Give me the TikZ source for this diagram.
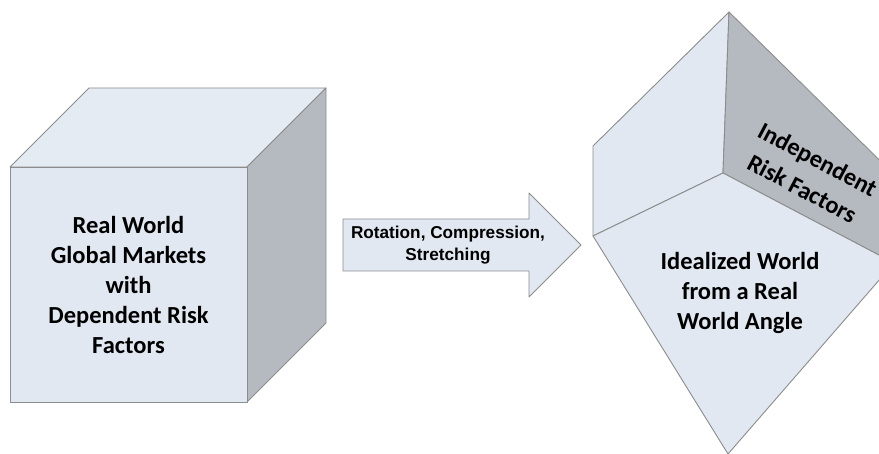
\documentclass[tikz,border=0pt]{standalone}
\usepackage{fontspec}
\setmainfont{Carlito}
\newfontfamily\arialfont{Liberation Sans}
\definecolor{facelight}{HTML}{E2E8F1}
\definecolor{facetop}{HTML}{E5EBF3}
\definecolor{facedark}{HTML}{B5BAC1}
\definecolor{edgegray}{HTML}{8C8C8C}
\tikzset{
  face/.style={draw=edgegray, line width=0.9pt, line join=round},
  bigtext/.style={font=\bfseries\fontsize{24.5}{30}\selectfont, align=center, text=black, inner sep=1pt},
  slanttext/.style={font=\bfseries\fontsize{24.5}{33}\selectfont, align=center, text=black, inner sep=1pt},
  arrowtext/.style={font=\arialfont\bfseries\fontsize{17.2}{22}\selectfont, align=center, text=black, inner sep=1pt}
}
\begin{document}
\begin{tikzpicture}[x=1pt,y=-1pt]
\useasboundingbox (0,0) rectangle (879,454);
\begin{scope}
\clip (0,0) rectangle (879,454);
% left cube
\coordinate (fa) at (10,167);
\coordinate (fb) at (247,167);
\coordinate (fc) at (247,402);
\coordinate (fd) at (10,402);
\coordinate (ta) at (89,88);
\coordinate (tb) at (326,88);
\coordinate (tc) at (326,323);
\filldraw[face, fill=facetop] (fa) -- (ta) -- (tb) -- (fb) -- cycle;
\filldraw[face, fill=facedark] (fb) -- (tb) -- (tc) -- (fc) -- cycle;
\filldraw[face, fill=facelight] (fa) -- (fb) -- (fc) -- (fd) -- cycle;
\node[bigtext] (cubetext) at (128.5,284.5) {Real World\\Global Markets\\with\\Dependent Risk\\Factors};
% arrow
\coordinate (a1) at (343,219);
\coordinate (a2) at (529,219);
\coordinate (a3) at (529,193);
\coordinate (a4) at (581,245);
\coordinate (a5) at (529,297);
\coordinate (a6) at (529,271);
\coordinate (a7) at (343,271);
\filldraw[face, fill=facelight] (a1) -- (a2) -- (a3) -- (a4) -- (a5) -- (a6) -- (a7) -- cycle;
\node[arrowtext] (arrowlabel) at (448,245) {Rotation, Compression,\\Stretching};
% right solid
\coordinate (rt) at (729,12);
\coordinate (rlu) at (593,146);
\coordinate (rll) at (593,236);
\coordinate (rc) at (723,173);
\coordinate (rr) at (894,263);
\coordinate (rtr) at (920,200);
\coordinate (rb) at (728,454);
\filldraw[face, fill=facelight] (rt) -- (rlu) -- (rll) -- (rc) -- cycle;
\filldraw[face, fill=facedark] (rt) -- (rc) -- (rr) -- (rtr) -- cycle;
\filldraw[face, fill=facelight] (rll) -- (rc) -- (rr) -- (rb) -- cycle;
\node[slanttext, rotate=-28] (indeptext) at (810,174) {Independent\\Risk Factors};
\node[bigtext] (idealtext) at (740,293) {Idealized World\\from a Real\\World Angle};
\end{scope}
\end{tikzpicture}
\end{document}
